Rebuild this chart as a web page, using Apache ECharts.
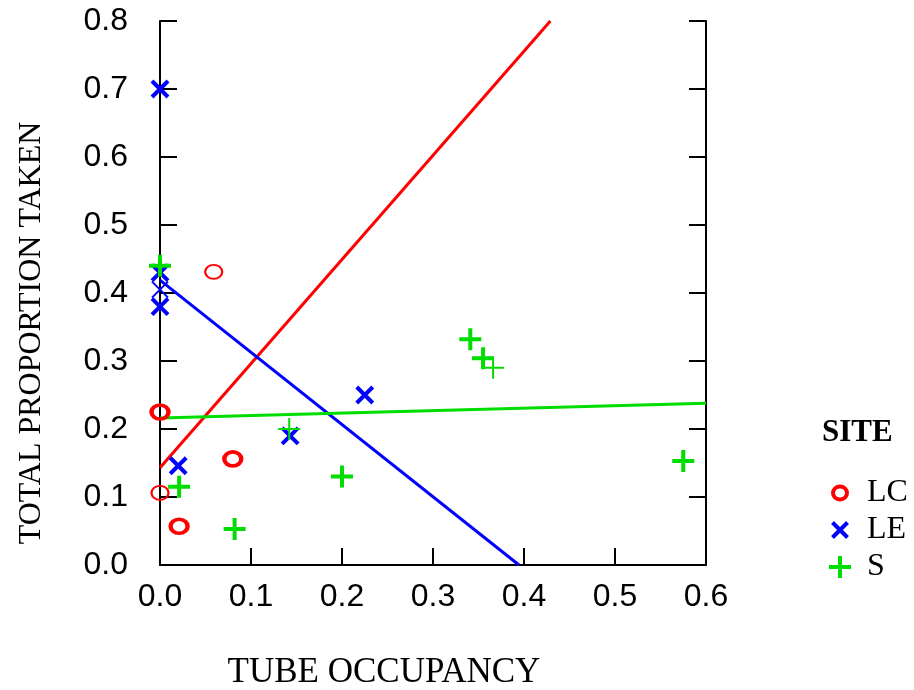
<!DOCTYPE html>
<html>
<head>
<meta charset="utf-8">
<script src="https://cdn.jsdelivr.net/npm/echarts@6/dist/echarts.min.js"></script>
<style>
  html, body { margin: 0; padding: 0; background: #fff; }
  #chart { width: 914px; height: 690px; }
</style>
</head>
<body>
<div id="chart"></div>
<script>
// Site LC observations (x = tube occupancy, y = total proportion taken, n = overlapping points)
const lcX = [0.0, 0.0, 0.059, 0.08, 0.021];
const lcY = [0.225, 0.106, 0.431, 0.156, 0.057];
const lcN = [2, 1, 1, 2, 2];

// Site LE observations
const leX = [0.0, 0.0, 0.0, 0.0, 0.02, 0.143, 0.225];
const leY = [0.70, 0.43, 0.405, 0.38, 0.146, 0.19, 0.25];
const leN = [2, 2, 1, 2, 2, 2, 2];

// Site S observations
const sX = [0.0, 0.021, 0.082, 0.142, 0.20, 0.341, 0.355, 0.366, 0.575];
const sY = [0.44, 0.115, 0.053, 0.20, 0.13, 0.332, 0.304, 0.29, 0.153];
const sN = [2, 2, 2, 1, 2, 2, 2, 1, 2];

// Fitted straight lines per site (end points)
const lcFitX = [0.0, 0.429];
const lcFitY = [0.143, 0.8];
const leFitX = [0.0, 0.3945];
const leFitY = [0.419, 0.0];
const sFitX = [0.0, 0.6];
const sFitY = [0.216, 0.238];

// Axis tick labels
const xTicks = ['0.0', '0.1', '0.2', '0.3', '0.4', '0.5', '0.6'];
const yTicks = ['0.0', '0.1', '0.2', '0.3', '0.4', '0.5', '0.6', '0.7', '0.8'];

const siteNames = ['LC', 'LE', 'S'];
const siteColors = ['#ff0000', '#0000ff', '#00dd00'];

const SANS = '"Liberation Sans", Arial, sans-serif';
const SERIF = '"Liberation Serif", "Times New Roman", serif';

// Marker shapes
const RING = 'path://M10,5A5,5,0,1,1,0,5A5,5,0,1,1,10,5Z';
const CROSS = 'path://M0,0L10,10M10,0L0,10';
const PLUS = 'path://M5,0L5,10M0,5L10,5';
// Legend versions padded inside a 22x22 box so all keys share one box size
const RING_KEY = 'path://M0,0M22,22M18,11A7,6.5,0,1,1,4,11A7,6.5,0,1,1,18,11Z';
const CROSS_KEY = 'path://M0,0M22,22M3.5,3.5L18.5,18.5M18.5,3.5L3.5,18.5';
const PLUS_KEY = 'path://M0,0M22,22M11,0L11,22M0,11L22,11';
const siteKeys = [RING_KEY, CROSS_KEY, PLUS_KEY];

function points(xs, ys, ns) {
  return xs.map((x, i) => ({
    value: [x, ys[i]],
    itemStyle: { borderWidth: ns[i] > 1 ? 4 : 2 }
  }));
}
function fit(xs, ys) {
  return xs.map((x, i) => [x, ys[i]]);
}

const axisLine = { show: true, onZero: false, lineStyle: { color: '#000', width: 2 } };
const axisTick = { show: true, inside: true, length: 17, lineStyle: { color: '#000', width: 2 } };

const chart = echarts.init(document.getElementById('chart'), null, { renderer: 'canvas' });

chart.setOption({
  animation: false,
  backgroundColor: '#fff',
  grid: { left: 160, right: 208, top: 21, bottom: 125, containLabel: false, outerBoundsMode: 'none' },
  title: {
    text: 'SITE',
    left: 817, top: 412,
    textStyle: { fontFamily: SERIF, fontWeight: 'bold', fontSize: 31, color: '#000' }
  },
  legend: {
    orient: 'vertical',
    left: 822, top: 470,
    itemWidth: 22, itemHeight: 22,
    itemGap: 1,
    data: siteNames.map((n, i) => ({ name: n, icon: siteKeys[i] })),
    itemStyle: { borderWidth: 4, opacity: 1 },
    textStyle: { fontFamily: SERIF, fontSize: 32, color: '#000', lineHeight: 36, padding: [0, 0, 0, 11] }
  },
  xAxis: {
    type: 'value',
    min: 0, max: 0.6, interval: 0.1,
    name: 'TUBE OCCUPANCY',
    nameLocation: 'middle',
    nameGap: 90,
    nameTextStyle: { fontFamily: SERIF, fontSize: 35, color: '#000', padding: [0, 98, 0, 0] },
    axisLine, axisTick,
    splitLine: { show: false },
    axisLabel: {
      margin: 16,
      fontFamily: SANS, fontSize: 32, color: '#000',
      formatter: (v) => xTicks[Math.round(v * 10)]
    }
  },
  yAxis: [{
    type: 'value',
    min: 0, max: 0.8, interval: 0.1,
    name: 'TOTAL PROPORTION TAKEN',
    nameLocation: 'middle',
    nameGap: 112,
    nameTextStyle: { fontFamily: SERIF, fontSize: 32, color: '#000', padding: [0, 80, 0, 0] },
    axisLine, axisTick,
    splitLine: { show: false },
    axisLabel: {
      margin: 32,
      fontFamily: SANS, fontSize: 32, color: '#000',
      formatter: (v) => yTicks[Math.round(v * 10)]
    }
  }, {
    type: 'value',
    position: 'right',
    min: 0, max: 0.8, interval: 0.1,
    axisLine, axisTick,
    splitLine: { show: false },
    axisLabel: { show: false }
  }],
  series: [
    {
      name: 'LC', type: 'scatter',
      symbol: RING, symbolSize: [17, 14],
      itemStyle: { color: 'transparent', borderColor: siteColors[0], borderWidth: 3, opacity: 1 },
      data: points(lcX, lcY, lcN), z: 3
    },
    {
      name: 'LE', type: 'scatter',
      symbol: CROSS, symbolSize: 16,
      itemStyle: { color: 'transparent', borderColor: siteColors[1], borderWidth: 3, opacity: 1 },
      data: points(leX, leY, leN), z: 3
    },
    {
      name: 'S', type: 'scatter',
      symbol: PLUS, symbolSize: 22,
      itemStyle: { color: 'transparent', borderColor: siteColors[2], borderWidth: 3, opacity: 1 },
      data: points(sX, sY, sN), z: 4
    },
    {
      name: 'LC fit', type: 'line', data: fit(lcFitX, lcFitY),
      showSymbol: false, symbol: 'none', clip: true,
      lineStyle: { color: siteColors[0], width: 3 }, z: 2
    },
    {
      name: 'LE fit', type: 'line', data: fit(leFitX, leFitY),
      showSymbol: false, symbol: 'none', clip: true,
      lineStyle: { color: siteColors[1], width: 3 }, z: 2
    },
    {
      name: 'S fit', type: 'line', data: fit(sFitX, sFitY),
      showSymbol: false, symbol: 'none', clip: true,
      lineStyle: { color: siteColors[2], width: 3 }, z: 2
    }
  ]
});
</script>
</body>
</html>
